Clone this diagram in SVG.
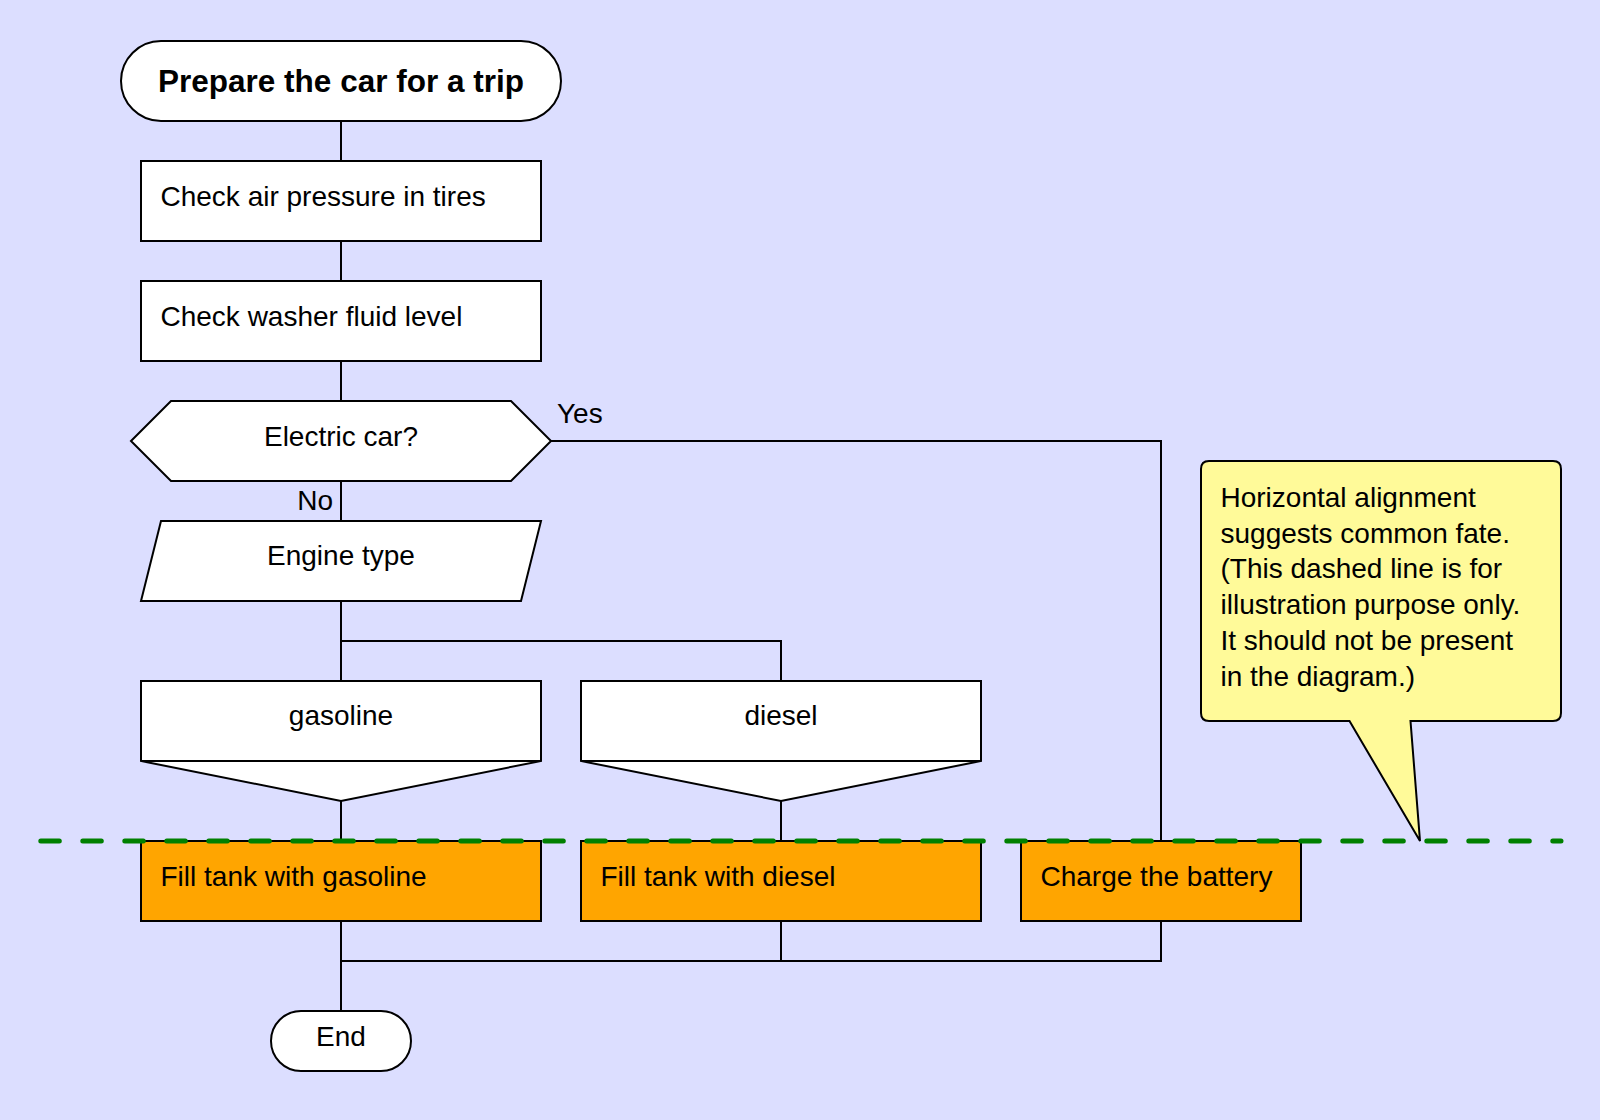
<svg xmlns="http://www.w3.org/2000/svg" width="1600" height="1120" viewBox="0 0 1600 1120">
<style>
  .shape { fill: #ffffff; stroke: #000000; stroke-width: 2; }
  .act { fill: #ffa500; stroke: #000000; stroke-width: 2; }
  .conn { fill: none; stroke: #000000; stroke-width: 2; }
  text { font-family: "Liberation Sans", Arial, sans-serif; font-size: 28px; fill: #000000; }
  .c { text-anchor: middle; }
  .title { font-weight: bold; font-size: 31.5px; }
</style>
<rect x="0" y="0" width="1600" height="1120" fill="#dcdeff"/>

<g id="connectors">
  <path class="conn" d="M341,121 V161"/>
  <path class="conn" d="M341,241 V281"/>
  <path class="conn" d="M341,361 V401"/>
  <path class="conn" d="M341,481 V521"/>
  <path class="conn" d="M551,441 H1161 V841"/>
  <path class="conn" d="M341,601 V681 M341,641 H781 V681"/>
  <path class="conn" d="M341,801 V841"/>
  <path class="conn" d="M781,801 V841"/>
  <path class="conn" d="M341,921 V1011"/>
  <path class="conn" d="M781,921 V961"/>
  <path class="conn" d="M1161,921 V961 H341"/>
  <text x="557" y="423">Yes</text>
  <text x="333" y="509.5" text-anchor="end">No</text>
</g>

<g id="start">
  <rect class="shape" x="121" y="41" width="440" height="80" rx="40" ry="40"/>
  <text class="c title" x="341" y="92">Prepare the car for a trip</text>
</g>

<g id="check-tires">
  <rect class="shape" x="141" y="161" width="400" height="80"/>
  <text x="160.5" y="205.5">Check air pressure in tires</text>
</g>

<g id="check-washer">
  <rect class="shape" x="141" y="281" width="400" height="80"/>
  <text x="160.5" y="325.5">Check washer fluid level</text>
</g>

<g id="electric-car">
  <polygon class="shape" points="131,441 171,401 511,401 551,441 511,481 171,481"/>
  <text class="c" x="341" y="445.5">Electric car?</text>
</g>

<g id="engine-type">
  <polygon class="shape" points="161,521 541,521 521,601 141,601"/>
  <text class="c" x="341" y="565">Engine type</text>
</g>

<g id="gasoline">
  <path class="shape" d="M141,681 H541 V761 L341,801 L141,761 Z"/>
  <path class="conn" d="M141,761 H541"/>
  <text class="c" x="341" y="725">gasoline</text>
</g>

<g id="diesel">
  <path class="shape" d="M581,681 H981 V761 L781,801 L581,761 Z"/>
  <path class="conn" d="M581,761 H981"/>
  <text class="c" x="781" y="725">diesel</text>
</g>

<g id="fill-gasoline">
  <rect class="act" x="141" y="841" width="400" height="80"/>
  <text x="160.5" y="885.5">Fill tank with gasoline</text>
</g>

<g id="fill-diesel">
  <rect class="act" x="581" y="841" width="400" height="80"/>
  <text x="600.5" y="885.5">Fill tank with diesel</text>
</g>

<g id="charge-battery">
  <rect class="act" x="1021" y="841" width="280" height="80"/>
  <text x="1040.5" y="885.5">Charge the battery</text>
</g>

<g id="end">
  <rect class="shape" x="271" y="1011" width="140" height="60" rx="30" ry="30"/>
  <text class="c" x="341" y="1046">End</text>
</g>

<g id="alignment-line">
  <line x1="40.8" y1="841" x2="1561" y2="841" stroke="#008000" stroke-width="5" stroke-linecap="round" stroke-dasharray="18.5 23.5"/>
</g>

<g id="note">
  <path d="M1209,461 H1553 Q1561,461 1561,469 V713 Q1561,721 1553,721 H1410.5 L1420,841 L1349.5,721 H1209 Q1201,721 1201,713 V469 Q1201,461 1209,461 Z" fill="#fffa99" stroke="#000000" stroke-width="2" stroke-linejoin="miter"/>
  <text x="1220.5" y="507.3">Horizontal alignment</text>
  <text x="1220.5" y="542.5">suggests common fate.</text>
  <text x="1220.5" y="578">(This dashed line is for</text>
  <text x="1220.5" y="613.5">illustration purpose only.</text>
  <text x="1220.5" y="649.5">It should not be present</text>
  <text x="1220.5" y="685.5">in the diagram.)</text>
</g>
</svg>
